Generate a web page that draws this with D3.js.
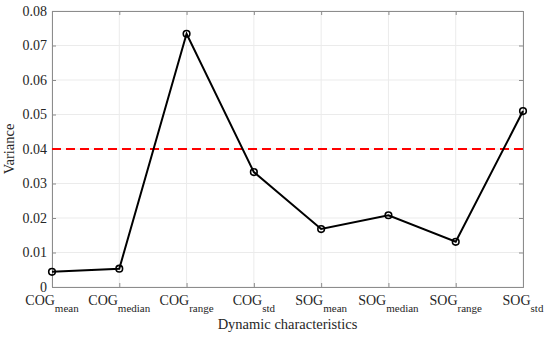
<!DOCTYPE html>
<html>
<head>
<meta charset="utf-8">
<script src="https://cdn.jsdelivr.net/npm/d3@7"></script>
<style>
  body { margin: 0; background: #fff; }
</style>
</head>
<body>
<div id="plotDiv"></div>
<script>
// --- data ---
const categories = ["mean", "median", "range", "std", "mean", "median", "range", "std"];
const groups = ["COG", "COG", "COG", "COG", "SOG", "SOG", "SOG", "SOG"];
const variances = [0.0044, 0.0053, 0.0734, 0.0333, 0.0168, 0.0208, 0.0131, 0.0510];
const yTicks = [0, 0.01, 0.02, 0.03, 0.04, 0.05, 0.06, 0.07, 0.08];
const threshold = 0.04;

const W = 550, H = 337;
const margin = {top: 11, right: 27, bottom: 50, left: 52};
const width = W - margin.left - margin.right;
const height = H - margin.top - margin.bottom;
const serif = "Liberation Serif";

const svg_container = d3.select("#plotDiv")
  .append("svg")
  .attr("width", W)
  .attr("height", H);

const svg = svg_container.append("g")
  .attr("transform", `translate(${margin.left},${margin.top})`);

// --- scales ---
const idx = d3.range(variances.length);
const xScale = d3.scalePoint()
  .domain(idx)
  .range([0, width]);

const yScale = d3.scaleLinear()
  .domain([0, 0.08])
  .range([height, 0]);

// --- grid ---
svg.append("g")
  .selectAll("line")
  .data(idx)
  .enter().append("line")
  .attr("x1", d => xScale(d)).attr("x2", d => xScale(d))
  .attr("y1", 0).attr("y2", height)
  .attr("stroke", "#ebebeb").attr("stroke-width", 1);

svg.append("g")
  .selectAll("line")
  .data(yTicks)
  .enter().append("line")
  .attr("x1", 0).attr("x2", width)
  .attr("y1", d => yScale(d)).attr("y2", d => yScale(d))
  .attr("stroke", "#ebebeb").attr("stroke-width", 1);

// --- axes ---
const axisColor = "#262626";
const xAxis = svg.append("g")
  .attr("transform", `translate(0,${height})`)
  .call(d3.axisBottom(xScale).tickSize(-4).tickFormat(""));
const xAxisTop = svg.append("g")
  .call(d3.axisTop(xScale).tickSize(-4).tickFormat(""));
const yAxis = svg.append("g")
  .call(d3.axisLeft(yScale).tickValues(yTicks).tickSize(-4)
    .tickFormat(d => d === 0 ? "0" : d3.format(".2f")(d)));
const yAxisRight = svg.append("g")
  .attr("transform", `translate(${width},0)`)
  .call(d3.axisRight(yScale).tickValues(yTicks).tickSize(-4).tickFormat(""));

[xAxis, xAxisTop, yAxis, yAxisRight].forEach(g => {
  g.attr("font-family", serif).attr("font-size", 14);
  g.select(".domain").attr("stroke", "#8c8c8c").attr("stroke-width", 1);
  g.selectAll(".tick line").attr("stroke", "#8c8c8c");
});
yAxis.selectAll(".tick text")
  .attr("x", -5)
  .attr("font-family", serif)
  .attr("font-size", 14)
  .attr("fill", axisColor);

// x tick labels with subscripts
const xLab = svg.append("g")
  .selectAll("text")
  .data(idx)
  .enter().append("text")
  .attr("x", d => xScale(d))
  .attr("y", height + 18)
  .attr("text-anchor", "middle")
  .attr("font-family", serif)
  .attr("font-size", 14)
  .attr("fill", axisColor);
xLab.append("tspan").text(d => groups[d]);
xLab.append("tspan")
  .attr("dy", 7)
  .attr("font-size", 11)
  .text(d => categories[d]);

// --- threshold line ---
svg.append("line")
  .attr("x1", 0).attr("x2", width)
  .attr("y1", yScale(threshold)).attr("y2", yScale(threshold))
  .attr("stroke", "#ff0000")
  .attr("stroke-width", 2)
  .attr("stroke-dasharray", "9,5");

// --- line + markers ---
const line = d3.line()
  .x(d => xScale(d))
  .y(d => yScale(variances[d]));

svg.append("path")
  .datum(idx)
  .attr("d", line)
  .attr("fill", "none")
  .attr("stroke", "#000")
  .attr("stroke-width", 2);

svg.selectAll("circle")
  .data(idx)
  .enter().append("circle")
  .attr("cx", d => xScale(d))
  .attr("cy", d => yScale(variances[d]))
  .attr("r", 3.3)
  .attr("fill", "none")
  .attr("stroke", "#000")
  .attr("stroke-width", 1.6);

// --- axis titles ---
svg_container.append("text")
  .attr("x", margin.left + width / 2)
  .attr("y", 329)
  .attr("text-anchor", "middle")
  .attr("font-family", serif)
  .attr("font-size", 14.5)
  .attr("fill", axisColor)
  .text("Dynamic characteristics");

svg_container.append("text")
  .attr("transform", `translate(14,${margin.top + height / 2}) rotate(-90)`)
  .attr("text-anchor", "middle")
  .attr("font-family", serif)
  .attr("font-size", 14.5)
  .attr("fill", axisColor)
  .text("Variance");
</script>
</body>
</html>
